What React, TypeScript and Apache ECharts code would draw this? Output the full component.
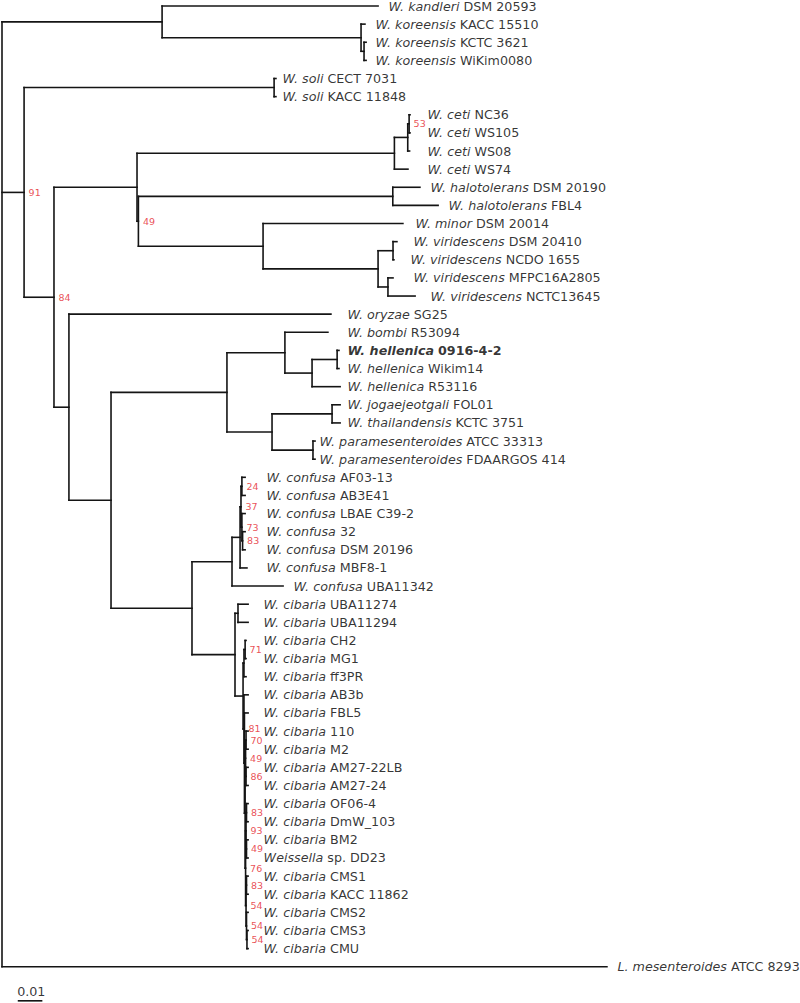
import React, { useEffect, useRef } from "react";
import * as echarts from "echarts";

// Leaves, top to bottom: [italic name, strain, parent node, distance from root (subst./site)]
const taxa: [string, string, string, number][] = [
  ["W. kandleri", "DSM 20593", "n1", 0.1635],
  ["W. koreensis", "KACC 15510", "n2", 0.1578],
  ["W. koreensis", "KCTC 3621", "n3", 0.1583],
  ["W. koreensis", "WiKim0080", "n3", 0.1583],
  ["W. soli", "CECT 7031", "soli", 0.1191],
  ["W. soli", "KACC 11848", "soli", 0.1191],
  ["W. ceti", "NC36", "M", 0.1774],
  ["W. ceti", "WS105", "M", 0.1774],
  ["W. ceti", "WS08", "L", 0.1772],
  ["W. ceti", "WS74", "K", 0.1765],
  ["W. halotolerans", "DSM 20190", "halo", 0.1817],
  ["W. halotolerans", "FBL4", "halo", 0.1896],
  ["W. minor", "DSM 20014", "MV", 0.1743],
  ["W. viridescens", "DSM 20410", "v1", 0.1717],
  ["W. viridescens", "NCDO 1655", "v1", 0.1704],
  ["W. viridescens", "MFPC16A2805", "v2", 0.17],
  ["W. viridescens", "NCTC13645", "v2", 0.1796],
  ["W. oryzae", "SG25", "C", 0.143],
  ["W. bombi", "R53094", "G", 0.1417],
  ["W. hellenica", "0916-4-2", "J", 0.1465],
  ["W. hellenica", "Wikim14", "J", 0.1465],
  ["W. hellenica", "R53116", "I", 0.147],
  ["W. jogaejeotgali", "FOL01", "P", 0.147],
  ["W. thailandensis", "KCTC 3751", "P", 0.147],
  ["W. paramesenteroides", "ATCC 33313", "pm", 0.1361],
  ["W. paramesenteroides", "FDAARGOS 414", "pm", 0.1361],
  ["W. confusa", "AF03-13", "c24", 0.1057],
  ["W. confusa", "AB3E41", "c24", 0.1057],
  ["W. confusa", "LBAE C39-2", "c73", 0.1057],
  ["W. confusa", "32", "c83", 0.1057],
  ["W. confusa", "DSM 20196", "c83", 0.1057],
  ["W. confusa", "MBF8-1", "conf1", 0.1065],
  ["W. confusa", "UBA11342", "conf", 0.1222],
  ["W. cibaria", "UBA11274", "U", 0.107],
  ["W. cibaria", "UBA11294", "U", 0.107],
  ["W. cibaria", "CH2", "w71", 0.1061],
  ["W. cibaria", "MG1", "w71", 0.1061],
  ["W. cibaria", "ff3PR", "W", 0.1061],
  ["W. cibaria", "AB3b", "Z", 0.107],
  ["W. cibaria", "FBL5", "R1", 0.107],
  ["W. cibaria", "110", "q70", 0.107],
  ["W. cibaria", "M2", "q70", 0.107],
  ["W. cibaria", "AM27-22LB", "q86", 0.107],
  ["W. cibaria", "AM27-24", "q86", 0.107],
  ["W. cibaria", "OF06-4", "s83a", 0.107],
  ["W. cibaria", "DmW_103", "s83a", 0.107],
  ["W. cibaria", "BM2", "s49", 0.107],
  ["Weissella", "sp. DD23", "s49", 0.107],
  ["W. cibaria", "CMS1", "s83b", 0.107],
  ["W. cibaria", "KACC 11862", "s83b", 0.107],
  ["W. cibaria", "CMS2", "s54mid", 0.107],
  ["W. cibaria", "CMS3", "s54c", 0.107],
  ["W. cibaria", "CMU", "s54c", 0.107],
  ["L. mesenteroides", "ATCC 8293", "root", 0.263],
];

// Strain shown in bold (the studied isolate)
const boldStrains = ["0916-4-2"];

// Internal nodes: [id, parent, distance from root, bootstrap support (0 = not shown)]
const nodes: [string, string, number, number][] = [
  ["root", "", 0, 0],
  ["n1", "root", 0.0696, 0],
  ["n2", "n1", 0.1561, 0],
  ["n3", "n2", 0.1574, 0],
  ["n91", "root", 0.0096, 91],
  ["soli", "n91", 0.1183, 0],
  ["n84", "n91", 0.0226, 84],
  ["A", "n84", 0.0587, 0],
  ["K", "A", 0.1706, 0],
  ["L", "K", 0.1764, 0],
  ["M", "L", 0.177, 53],
  ["B", "A", 0.0593, 49],
  ["halo", "B", 0.1699, 0],
  ["MV", "B", 0.1135, 0],
  ["vir", "MV", 0.1635, 0],
  ["v1", "vir", 0.17, 0],
  ["v2", "vir", 0.1678, 0],
  ["C", "n84", 0.0291, 0],
  ["D", "C", 0.0474, 0],
  ["E", "D", 0.0978, 0],
  ["G", "E", 0.123, 0],
  ["I", "G", 0.1348, 0],
  ["J", "I", 0.1457, 0],
  ["H", "E", 0.1174, 0],
  ["P", "H", 0.1435, 0],
  ["pm", "H", 0.1352, 0],
  ["F", "D", 0.0826, 0],
  ["conf", "F", 0.1, 0],
  ["conf1", "conf", 0.1035, 0],
  ["c37", "conf1", 0.1039, 37],
  ["c24", "c37", 0.1043, 24],
  ["c73", "c37", 0.1043, 73],
  ["c83", "c73", 0.1046, 83],
  ["cib", "F", 0.1013, 0],
  ["U", "cib", 0.1026, 0],
  ["V", "cib", 0.1048, 0],
  ["W", "V", 0.1052, 0],
  ["w71", "W", 0.1057, 71],
  ["Z", "V", 0.1052, 81],
  ["R1", "Z", 0.1054, 0],
  ["R2", "R1", 0.1057, 0],
  ["q49", "R2", 0.1059, 49],
  ["q70", "q49", 0.1061, 70],
  ["q86", "q49", 0.1061, 86],
  ["S2", "R2", 0.1059, 76],
  ["s93", "S2", 0.1061, 93],
  ["s83a", "s93", 0.1063, 83],
  ["s49", "s93", 0.1063, 49],
  ["s54top", "S2", 0.1061, 54],
  ["s83b", "s54top", 0.1063, 83],
  ["s54mid", "s54top", 0.1063, 54],
  ["s54c", "s54mid", 0.1065, 54],
];

const scaleBarLength = 0.01;
const scaleBarLabel = "0.01";

// ---- styling ----
const LABEL_PAD = [
  10, 10, 9, 9, 6, 6, 17, 17, 17.5, 19, 10, 10, 12, 16, 16, 20, 15, 16, 19, 8, 8, 7, 7, 7, 4, 4,
  21, 21, 21, 21, 21, 19, 10, 15, 15, 17, 17, 17, 15, 15, 15, 15, 15, 15, 15, 15, 15, 15, 15, 15,
  15, 15, 15, 10,
];
const FONT = "'DejaVu Sans', Verdana, sans-serif";
const FS = 12.7;
const LINE = "#141414";
const RED = "#e4232a";

function buildTree() {
  const depth: Record<string, number> = {};
  const support: Record<string, number> = {};
  const children: Record<string, { key: string; leaf: boolean; idx: number }[]> = {};
  nodes.forEach(([id, parent, d, s]) => {
    depth[id] = d;
    support[id] = s;
    children[id] = children[id] || [];
    if (parent) {
      children[parent] = children[parent] || [];
      children[parent].push({ key: id, leaf: false, idx: -1 });
    }
  });
  taxa.forEach(([, , parent], i) => {
    children[parent] = children[parent] || [];
    children[parent].push({ key: "leaf" + i, leaf: true, idx: i });
  });
  const yMemo: Record<string, number> = {};
  const yOf = (c: { key: string; leaf: boolean; idx: number }): number => {
    if (c.leaf) return c.idx;
    if (yMemo[c.key] !== undefined) return yMemo[c.key];
    const ys = children[c.key].map(yOf);
    const v = (Math.min(...ys) + Math.max(...ys)) / 2;
    yMemo[c.key] = v;
    return v;
  };
  const segs: number[][] = [];
  const supports: any[] = [];
  nodes.forEach(([id]) => {
    const ch = children[id];
    const ys = ch.map(yOf);
    const d = depth[id];
    segs.push([d, Math.min(...ys), d, Math.max(...ys)]);
    ch.forEach((c, k) => {
      const cd = c.leaf ? taxa[c.idx][3] : depth[c.key];
      segs.push([d, ys[k], cd, ys[k]]);
    });
    if (support[id] > 0) {
      supports.push([d, yOf({ key: id, leaf: false, idx: -1 }), support[id]]);
    }
  });
  return { segs, supports };
}

export default function App() {
  const ref = useRef<HTMLDivElement>(null);
  useEffect(() => {
    if (!ref.current) return;
    const chart = echarts.init(ref.current, null, { renderer: "svg" });
    const { segs, supports } = buildTree();

    const leafData = taxa.map(([sp, strain, , d], i) => {
      const bold = boldStrains.includes(strain);
      const text = bold ? `{ib|${sp}} {b|${strain}}` : `{i|${sp}} {n|${strain}}`;
      return {
        value: [d, i],
        label: { formatter: text, distance: LABEL_PAD[i] },
      };
    });

    const baseText = { fontFamily: FONT, fontSize: FS, color: "#000" };
    const segItem = (params: any, api: any) => {
      const p1 = api.coord([api.value(0), api.value(1)]);
      const p2 = api.coord([api.value(2), api.value(3)]);
      return {
        type: "line",
        shape: { x1: p1[0], y1: p1[1], x2: p2[0], y2: p2[1] },
        style: { stroke: LINE, lineWidth: 1.6, lineCap: "square" },
      };
    };
    const barStart = 0.0072;
    const barY = 54.88;
    const hidden = { color: "rgba(0,0,0,0)" };

    chart.setOption({
      animation: false,
      backgroundColor: "#ffffff",
      grid: { left: 2, right: 4, top: 6, bottom: 0 },
      xAxis: { type: "value", min: 0, max: 0.3452, show: false },
      yAxis: { type: "value", min: 0, max: 55, inverse: true, show: false },
      series: [
        {
          type: "custom",
          silent: true,
          clip: false,
          renderItem: segItem,
          encode: { x: [0, 2], y: [1, 3] },
          data: segs,
        },
        {
          type: "custom",
          silent: true,
          clip: false,
          renderItem: segItem,
          encode: { x: [0, 2], y: [1, 3] },
          data: [[barStart, barY, barStart + scaleBarLength, barY]],
        },
        {
          type: "scatter",
          silent: true,
          symbolSize: 1,
          itemStyle: hidden,
          label: {
            show: true,
            position: "right",
            ...baseText,
            rich: {
              i: { ...baseText, fontStyle: "italic" },
              n: { ...baseText },
              ib: { ...baseText, fontStyle: "italic", fontWeight: "bold" },
              b: { ...baseText, fontWeight: "bold" },
            },
          },
          data: leafData,
        },
        {
          type: "scatter",
          silent: true,
          symbolSize: 1,
          itemStyle: hidden,
          label: {
            show: true,
            position: "right",
            distance: 4,
            fontFamily: FONT,
            fontSize: 9.5,
            color: RED,
            formatter: (p: any) => String(p.value[2]),
          },
          data: supports,
        },
        {
          type: "scatter",
          silent: true,
          symbolSize: 1,
          itemStyle: hidden,
          label: {
            show: true,
            position: "right",
            distance: -1,
            ...baseText,
            formatter: scaleBarLabel,
          },
          data: [[barStart - 0.0004, 54.37]],
        },
      ],
    });
    return () => chart.dispose();
  }, []);
  return (
    <div
      ref={ref}
      style={{ position: "absolute", left: 0, top: 0, width: 800, height: 1003, background: "#fff" }}
    />
  );
}
